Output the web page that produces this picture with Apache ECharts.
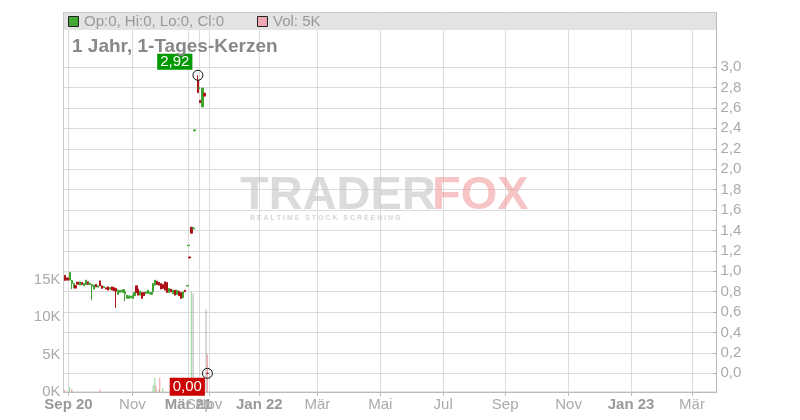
<!DOCTYPE html>
<html><head><meta charset="utf-8">
<script src="https://cdn.jsdelivr.net/npm/echarts@6/dist/echarts.min.js"></script>
<style>html,body{margin:0;padding:0;background:#fff}#c{width:800px;height:420px}</style>
</head><body><div id="c"></div>
<script>
// ---- x axis (day slots) ----
const tickPos    = [5, 69, 125, 136, 145.5, 196, 254, 317, 380, 442, 505.5, 568, 629];
const tickLabels = ['Sep 20','Nov','Mär 21','Sep','Nov','Jan 22','Mär','Mai','Jul','Sep','Nov','Jan 23','Mär'];
const tickBold   = [true,false,true,false,false,true,false,false,false,false,false,true,false];
const xMax = 653.5;

// ---- price axis ----
const priceTicks = [0.0,0.2,0.4,0.6,0.8,1.0,1.2,1.4,1.6,1.8,2.0,2.2,2.4,2.6,2.8,3.0];
const priceMin = -0.183, priceMax = 3.535;

// ---- volume axis ----
const volTicks = [0, 5000, 10000, 15000];
const volMax = 50667;

// ---- candles ----
const candleX = [1.5,4,6.5,8.5,10.5,12,14,16.5,18.5,20.5,22.5,24.5,26,28.5,30.5,32.5,34.5,36.5,38.5,40.5,
  42.5,44.5,46.5,48.5,50.5,52.5,54.5,56.5,58.5,60,61.5,63.5,65.5,67.5,69.5,71,73,74.5,76.5,78.5,
  80.5,82.5,84.5,86.5,88,89.5,91.5,93.5,95.5,97.5,99.5,101.5,103.5,105.5,107.5,109.5,111.5,113.5,115.5,117.5,
  119.5,121.5,124,125.3,126.3,128,130,131.3,134.5,135.8,137,139.3,141.3,144];
const candleOpen = [0.96,0.935,0.913,0.88,0.835,0.86,0.893,0.864,0.89,0.857,0.87,0.896,0.87,0.855,0.825,0.87,0.844,0.906,0.857,0.84,
  0.838,0.847,0.825,0.847,0.841,0.832,0.773,0.793,0.799,0.792,0.776,0.734,0.734,0.74,0.734,0.76,0.857,0.825,0.766,0.792,
  0.792,0.783,0.783,0.779,0.773,0.798,0.864,0.903,0.89,0.88,0.87,0.896,0.89,0.792,0.825,0.779,0.815,0.773,0.805,0.792,
  0.74,0.815,0.855,1.25,1.14,1.432,1.415,2.375,2.87,2.79,2.674,2.61,2.745,0];
const candleClose = [0.91,0.913,0.99,0.91,0.88,0.835,0.873,0.896,0.87,0.88,0.913,0.87,0.883,0.87,0.864,0.847,0.857,0.857,0.832,0.85,
  0.825,0.815,0.841,0.815,0.808,0.805,0.815,0.815,0.815,0.82,0.798,0.766,0.76,0.756,0.766,0.792,0.792,0.766,0.805,0.734,
  0.76,0.799,0.815,0.792,0.792,0.88,0.913,0.87,0.864,0.825,0.832,0.815,0.792,0.832,0.799,0.815,0.766,0.815,0.76,0.734,
  0.799,0.799,0.86,1.256,1.13,1.373,1.425,2.385,2.75,2.80,2.652,2.795,2.716,0];
const candleLow = [0.91,0.913,0.913,0.825,0.835,0.835,0.873,0.864,0.87,0.857,0.87,0.87,0.87,0.717,0.825,0.847,0.844,0.857,0.832,0.84,
  0.825,0.815,0.825,0.815,0.808,0.642,0.773,0.793,0.799,0.792,0.707,0.734,0.734,0.74,0.734,0.76,0.792,0.766,0.766,0.734,
  0.76,0.783,0.783,0.779,0.773,0.798,0.864,0.87,0.864,0.825,0.832,0.815,0.792,0.792,0.799,0.779,0.766,0.773,0.76,0.734,
  0.74,0.799,0.855,1.25,1.13,1.373,1.415,2.375,2.75,2.79,2.652,2.61,2.716,0];
const candleHigh = [0.96,0.935,0.99,0.913,0.88,0.86,0.893,0.896,0.89,0.88,0.913,0.896,0.883,0.875,0.864,0.87,0.857,0.906,0.857,0.85,
  0.838,0.847,0.841,0.847,0.841,0.835,0.815,0.815,0.815,0.82,0.80,0.766,0.76,0.756,0.766,0.792,0.857,0.825,0.805,0.792,
  0.792,0.799,0.815,0.792,0.792,0.88,0.913,0.903,0.89,0.88,0.87,0.896,0.89,0.832,0.825,0.815,0.815,0.815,0.805,0.792,
  0.799,0.815,0.86,1.256,1.14,1.432,1.425,2.385,2.92,2.80,2.674,2.795,2.745,0];

// ---- volume ----
const volX   = [1, 6, 8.3, 36.3, 89.7, 91.3, 92.7, 95.7, 96.3, 99.3, 128, 129.7, 142.7, 144];
const volVal = [270, 670, 400, 300, 930, 1900, 800, 400, 1900, 500, 13400, 13200, 11000, 5000];
const volDir = [-1, 1, -1, -1, 1, 1, -1, 1, -1, 1, 1, 0, 0, -1];

const UP = '#3ea32f', DOWN = '#ae1018';
const VUP = 'rgba(120,200,120,0.65)', VDOWN = 'rgba(235,130,140,0.7)', VFLAT = 'rgba(160,160,160,0.7)';
const FONT = 'Liberation Sans, Arial, sans-serif';

const candleData = candleX.map((x, i) => [x, candleOpen[i], candleClose[i], candleLow[i], candleHigh[i]]);
const volData = volX.map((x, i) => ({
  value: [x, volVal[i]],
  itemStyle: { color: volDir[i] > 0 ? VUP : (volDir[i] < 0 ? VDOWN : VFLAT) }
}));

let maxIdx = 0;
candleHigh.forEach((h, i) => { if (h > candleHigh[maxIdx]) maxIdx = i; });
const lastIdx = candleX.length - 1;
const fmt2 = v => v.toFixed(2).replace('.', ',');

const chart = echarts.init(document.getElementById('c'), null, { renderer: 'canvas' });
chart.setOption({
  animation: false,
  textStyle: { fontFamily: FONT },
  grid: { left: 63.5, right: 83.5, top: 12.5, bottom: 28, show: true, borderColor: '#c8c8c8', borderWidth: 1 },
  xAxis: {
    type: 'value', min: 0, max: xMax,
    axisLine: { show: true, lineStyle: { color: '#bbb' } },
    axisTick: { show: true, length: 4, lineStyle: { color: '#bbb' }, customValues: tickPos },
    splitLine: { show: true, lineStyle: { color: '#dcdcdc' } },
    axisLabel: {
      customValues: tickPos, color: '#aaa', fontSize: 15, margin: 5, fontFamily: FONT,
      formatter: v => { const i = tickPos.indexOf(v); if (i < 0) return ''; return tickBold[i] ? '{b|' + tickLabels[i] + '}' : tickLabels[i]; },
      rich: { b: { fontWeight: 'bold', color: '#999', fontSize: 15, fontFamily: FONT } }
    }
  },
  yAxis: [
    {
      type: 'value', position: 'left', min: 0, max: volMax,
      axisLine: { show: true, lineStyle: { color: '#c8c8c8' } },
      axisTick: { show: false, customValues: volTicks },
      splitLine: { show: false },
      axisLabel: { customValues: volTicks, color: '#aaa', fontSize: 15, margin: 3, formatter: v => (v / 1000) + 'K' }
    },
    {
      type: 'value', position: 'right', min: priceMin, max: priceMax,
      axisLine: { show: true, lineStyle: { color: '#bbb' } },
      axisTick: { show: true, inside: true, length: 3, lineStyle: { color: '#aaa' }, customValues: priceTicks },
      splitLine: { show: true, lineStyle: { color: '#dcdcdc' } },
      axisLabel: { customValues: priceTicks, color: '#aaa', fontSize: 15, margin: 4, formatter: v => v.toFixed(1).replace('.', ',') }
    }
  ],
  graphic: [
    { type: 'rect', z: 100, shape: { x: 64, y: 13, width: 652, height: 17 }, style: { fill: '#e3e3e3' } },
    { type: 'rect', z: 101, shape: { x: 68.5, y: 16.5, width: 10, height: 10 }, style: { fill: '#44a835', stroke: '#222', lineWidth: 1 } },
    { type: 'text', z: 101, x: 84, y: 22, style: { text: 'Op:0, Hi:0, Lo:0, Cl:0', fill: '#999', font: '15px ' + FONT, verticalAlign: 'middle' } },
    { type: 'rect', z: 101, shape: { x: 257.5, y: 16.5, width: 10, height: 10 }, style: { fill: '#f0a8b0', stroke: '#222', lineWidth: 1 } },
    { type: 'text', z: 101, x: 273, y: 22, style: { text: 'Vol: 5K', fill: '#999', font: '15px ' + FONT, verticalAlign: 'middle' } },
    { type: 'text', z: 101, x: 72, y: 47, style: { text: '1 Jahr, 1-Tages-Kerzen', fill: '#888', font: 'bold 19px ' + FONT, verticalAlign: 'middle' } },
    { type: 'text', z: 1, x: 240, y: 196, style: { text: 'TRADER', fill: 'rgba(195,195,195,0.6)', font: 'bold 47px ' + FONT, verticalAlign: 'middle' } },
    { type: 'text', z: 1, x: 432, y: 196, style: { text: 'FOX', fill: 'rgba(240,140,140,0.5)', font: 'bold 47px ' + FONT, verticalAlign: 'middle' } },
    { type: 'text', z: 1, x: 250, y: 218, style: { text: 'R E A L T I M E   S T O C K   S C R E E N I N G', fill: 'rgba(195,195,195,0.7)', font: 'bold 7px ' + FONT, verticalAlign: 'middle' } }
  ],
  series: [
    {
      type: 'bar', xAxisIndex: 0, yAxisIndex: 0, barWidth: 1.2, data: volData, z: 2
    },
    {
      type: 'candlestick', xAxisIndex: 0, yAxisIndex: 1, barWidth: 2, z: 3,
      encode: { x: 0, y: [1, 2, 3, 4] },
      itemStyle: { color: UP, color0: DOWN, borderColor: UP, borderColor0: DOWN, borderWidth: 1 },
      data: candleData
    },
    {
      type: 'scatter', xAxisIndex: 0, yAxisIndex: 1, z: 5, symbol: 'circle', symbolSize: 10,
      itemStyle: { color: 'rgba(0,0,0,0)', borderColor: '#111', borderWidth: 1, opacity: 1 },
      data: [
        { value: [candleX[maxIdx], candleHigh[maxIdx]],
          label: { show: true, position: [0, 0], align: 'right', verticalAlign: 'bottom', formatter: p => fmt2(p.value[1]),
                   backgroundColor: '#009900', color: '#fff', fontSize: 15, padding: [1, 3, 0, 3], fontFamily: FONT } },
        { value: [candleX[lastIdx], candleClose[lastIdx]],
          label: { show: true, position: [3, 10], align: 'right', verticalAlign: 'top', formatter: p => fmt2(p.value[1]),
                   backgroundColor: '#cc0000', color: '#fff', fontSize: 15, padding: [2, 3, 1, 3], fontFamily: FONT } }
      ]
    }
  ]
});
</script>
</body></html>
